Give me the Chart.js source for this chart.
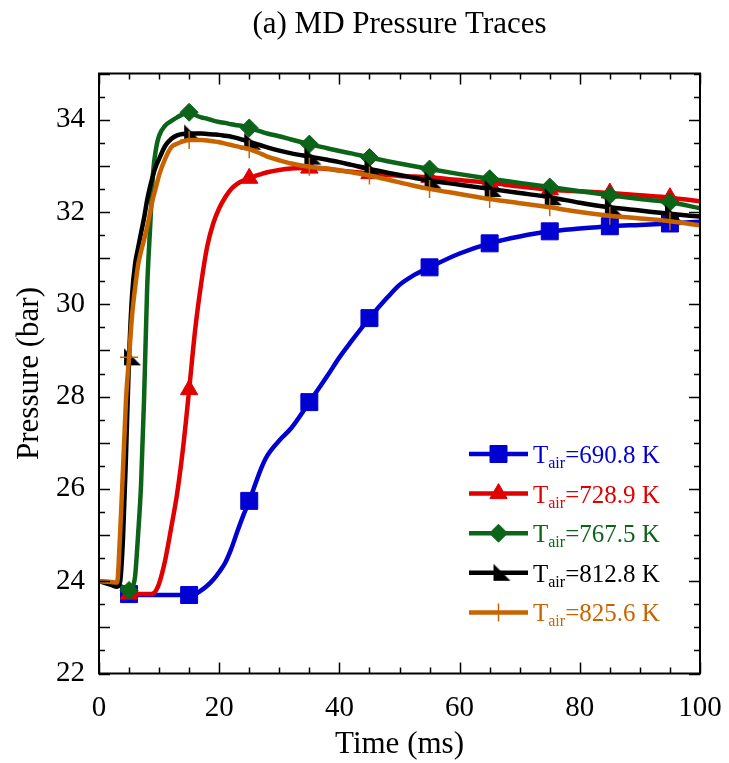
<!DOCTYPE html>
<html>
<head>
<meta charset="utf-8">
<script src="https://cdn.jsdelivr.net/npm/chart.js@4.4.0/dist/chart.umd.min.js"></script>
<style>
  html, body { margin: 0; padding: 0; background: #fff; }
</style>
</head>
<body>
<canvas id="chart" width="729" height="763"></canvas>
<script>
// time axis (ms), shared by all traces
const time = [0, 2, 3, 3.5, 4, 4.5, 5, 5.5, 6, 6.5, 7, 7.5, 8, 8.5, 9, 9.5, 10,
  11, 12, 13, 14, 15, 16, 17, 18, 19, 20, 21, 22, 23, 24, 25, 26, 27, 28,
  30, 32, 35, 38, 40, 42, 45, 48, 50, 52, 55, 60, 65, 70, 75, 80, 85, 90, 95, 100];

// pressure (bar) for each air temperature
const p690 = [null, null, null, null, null, null,
  23.72, 23.71, 23.7, 23.7, 23.7, 23.7, 23.7, 23.7, 23.7, 23.7, 23.7,
  23.7, 23.7, 23.7, 23.7, 23.7, 23.72, 23.8, 23.9, 24.03, 24.2, 24.4, 24.7, 25.07, 25.42, 25.74, 26.1, 26.45, 26.72,
  27.05, 27.32, 27.88, 28.45, 28.85, 29.2, 29.7, 30.15, 30.42, 30.6, 30.8,
  31.1, 31.32, 31.47, 31.58, 31.64, 31.69, 31.72, 31.75, 31.79];
const p729 = [null, null, null, null, null, null,
  23.72, 23.72, 23.72, 23.72, 23.72, 23.72, 23.72, 23.72, 23.73, 23.8, 23.95,
  24.45, 25.15, 25.9, 26.9, 28.15, 29.45, 30.45, 31.25, 31.75, 32.08, 32.32, 32.5, 32.61, 32.68, 32.73, 32.78, 32.82, 32.86,
  32.91, 32.94, 32.95, 32.93, 32.9, 32.87, 32.83, 32.8, 32.78, 32.77, 32.75,
  32.69, 32.63, 32.55, 32.48, 32.45, 32.41, 32.36, 32.31, 32.23];
const p768 = [24.0, 23.97, 23.93, 23.9, 23.87, 23.83,
  23.8, 23.85, 24.1, 25.0, 26.1, 27.95, 30.3, 31.65, 32.85, 33.38, 33.65,
  33.87, 33.97, 34.05, 34.12, 34.16, 34.1, 34.05, 34.02, 33.98, 33.95, 33.93, 33.9, 33.88, 33.86, 33.82, 33.78, 33.74, 33.7,
  33.64, 33.57, 33.47, 33.38, 33.32, 33.27, 33.18, 33.1, 33.05, 33.0, 32.93,
  32.82, 32.72, 32.63, 32.54, 32.45, 32.36, 32.28, 32.21, 32.08];
const p813 = [24.0, 23.92, 23.88, 23.98, 24.95, 26.75,
  28.85, 30.2, 30.87, 31.22, 31.55, 31.87, 32.25, 32.55, 32.8, 33.0, 33.15,
  33.43, 33.58, 33.66, 33.69, 33.7, 33.7, 33.7, 33.69, 33.68, 33.67, 33.65, 33.63, 33.6, 33.56, 33.52, 33.48, 33.44, 33.4,
  33.33, 33.27, 33.2, 33.13, 33.08, 33.02, 32.93, 32.85, 32.8, 32.75, 32.68,
  32.59, 32.5, 32.41, 32.32, 32.2, 32.1, 32.03, 31.96, 31.9];
const p826 = [24.0, 23.98, 23.97, 25.0, 26.45, 27.95,
  28.85, 29.75, 30.35, 30.85, 31.15, 31.4, 31.67, 31.98, 32.3, 32.55, 32.8,
  33.15, 33.4, 33.48, 33.53, 33.56, 33.56, 33.56, 33.55, 33.53, 33.51, 33.48, 33.45, 33.42, 33.39, 33.36, 33.31, 33.26, 33.2,
  33.12, 33.05, 32.98, 32.94, 32.9, 32.86, 32.79, 32.7, 32.64, 32.58, 32.5,
  32.39, 32.28, 32.19, 32.1, 32.0, 31.92, 31.86, 31.8, 31.71];

const seriesLabels = ["690.8 K", "728.9 K", "767.5 K", "812.8 K", "825.6 K"];
const markerTimes = [5, 15, 25, 35, 45, 55, 65, 75, 85, 95];
const xTicks = [0, 20, 40, 60, 80, 100];
const yTicks = [22, 24, 26, 28, 30, 32, 34];

const FONT = "'Liberation Serif', 'Times New Roman', serif";
const colors = ["#0000d2", "#e00000", "#0b6418", "#000000", "#c86400"];

// black marker: right triangle (vertical left side, flat bottom)
const flag = document.createElement("canvas");
flag.width = 34;
flag.height = 34;
const fc = flag.getContext("2d");
fc.fillStyle = "#000";
fc.beginPath();
fc.moveTo(12, 8);
fc.lineTo(12, 25);
fc.lineTo(29, 25);
fc.closePath();
fc.fill();

const styles = ["rect", "triangle", "rectRot", flag, "cross"];
const radii = [12, 10, 9, 10, 9];
const allP = [p690, p729, p768, p813, p826];

const datasets = allP.map((vals, i) => ({
  label: seriesLabels[i],
  data: time.map((t, k) => ({ x: t, y: vals[k] })),
  borderColor: colors[i],
  backgroundColor: colors[i],
  borderWidth: 4.5,
  cubicInterpolationMode: "monotone",
  pointStyle: styles[i],
  pointRadius: (ctx) => (markerTimes.includes(time[ctx.dataIndex]) ? radii[i] : 0),
  pointHoverRadius: 0,
  pointBackgroundColor: colors[i],
  pointBorderColor: colors[i],
  pointBorderWidth: i === 4 ? 1.5 : 1,
  order: 4 - i,
}));

// draws a legend marker the same way as the plotted ones
function drawMarker(ctx, i, x, y) {
  ctx.save();
  ctx.fillStyle = colors[i];
  ctx.strokeStyle = colors[i];
  ctx.lineWidth = i === 4 ? 1.5 : 1;
  Chart.helpers.drawPoint(ctx, { pointStyle: styles[i], radius: radii[i], rotation: 0, borderWidth: ctx.lineWidth }, x, y);
  ctx.restore();
}

const framePlugin = {
  id: "frame",
  afterDraw(chart) {
    const { ctx, chartArea: a, scales } = chart;
    const xs = scales.x, ys = scales.y;
    ctx.save();

    // title
    ctx.fillStyle = "#000";
    ctx.font = "31px " + FONT;
    ctx.textAlign = "center";
    ctx.textBaseline = "middle";
    ctx.fillText("(a) MD Pressure Traces", (a.left + a.right) / 2, 25);

    // box
    ctx.strokeStyle = "#000";
    ctx.lineWidth = 2;
    ctx.strokeRect(a.left, a.top, a.right - a.left, a.bottom - a.top);

    // inward ticks
    ctx.lineWidth = 1.5;
    ctx.beginPath();
    for (let v = 0; v <= 100; v += 5) {
      const px = Math.round(xs.getPixelForValue(v)) + 0.5;
      const len = v % 20 === 0 ? 11 : 6;
      ctx.moveTo(px, a.bottom);
      ctx.lineTo(px, a.bottom - len);
      ctx.moveTo(px, a.top);
      ctx.lineTo(px, a.top + len);
    }
    for (let v = 22; v <= 35; v += 0.5) {
      const py = Math.round(ys.getPixelForValue(v)) + 0.5;
      const lenL = Number.isInteger(v) ? 11 : 6;
      const lenR = v % 2 === 0 ? 11 : 6;
      ctx.moveTo(a.left, py);
      ctx.lineTo(a.left + lenL, py);
      ctx.moveTo(a.right, py);
      ctx.lineTo(a.right - lenR, py);
    }
    ctx.stroke();

    // legend
    const lx0 = 469, lx1 = 528, top = 454, step = 39.6;
    seriesLabels.forEach((lab, i) => {
      const y = top + i * step;
      ctx.strokeStyle = colors[i];
      ctx.lineWidth = 4.5;
      ctx.beginPath();
      ctx.moveTo(lx0, y);
      ctx.lineTo(lx1, y);
      ctx.stroke();
      drawMarker(ctx, i, (lx0 + lx1) / 2, y);

      ctx.fillStyle = colors[i];
      ctx.textAlign = "left";
      ctx.textBaseline = "alphabetic";
      let x = 533;
      const base = y + 9;
      ctx.font = "25px " + FONT;
      ctx.fillText("T", x, base);
      x += ctx.measureText("T").width;
      ctx.font = "16px " + FONT;
      ctx.fillText("air", x, base + 5);
      x += ctx.measureText("air").width;
      ctx.font = "25px " + FONT;
      ctx.fillText("=" + lab, x, base);
    });
    ctx.restore();
  },
};

new Chart(document.getElementById("chart"), {
  type: "line",
  data: { datasets },
  options: {
    responsive: false,
    animation: false,
    devicePixelRatio: 1,
    layout: { padding: { top: 73.5, right: 29, left: 0, bottom: 0 } },
    plugins: { legend: { display: false }, tooltip: { enabled: false }, title: { display: false } },
    scales: {
      x: {
        type: "linear",
        min: 0,
        max: 100,
        afterBuildTicks: (s) => { s.ticks = xTicks.map((v) => ({ value: v })); },
        afterFit: (s) => { s.height = 89.5; s.paddingLeft = 0; s.paddingRight = 0; },
        grid: { display: false, drawTicks: false },
        border: { display: false },
        ticks: { color: "#000", font: { family: FONT, size: 29 }, padding: 17, maxRotation: 0 },
        title: { display: true, text: "Time (ms)", color: "#000", font: { family: FONT, size: 31 }, padding: { top: 0, bottom: 0 } },
      },
      y: {
        type: "linear",
        min: 22,
        max: 35,
        afterBuildTicks: (s) => { s.ticks = yTicks.map((v) => ({ value: v })); },
        afterFit: (s) => { s.width = 99; s.paddingTop = 0; s.paddingBottom = 0; },
        grid: { display: false, drawTicks: false },
        border: { display: false },
        ticks: { color: "#000", font: { family: FONT, size: 29 }, padding: 14 },
        title: { display: true, text: "Pressure (bar)", color: "#000", font: { family: FONT, size: 31 }, padding: { top: 11, bottom: 0 } },
      },
    },
  },
  plugins: [framePlugin],
});
</script>
</body>
</html>
